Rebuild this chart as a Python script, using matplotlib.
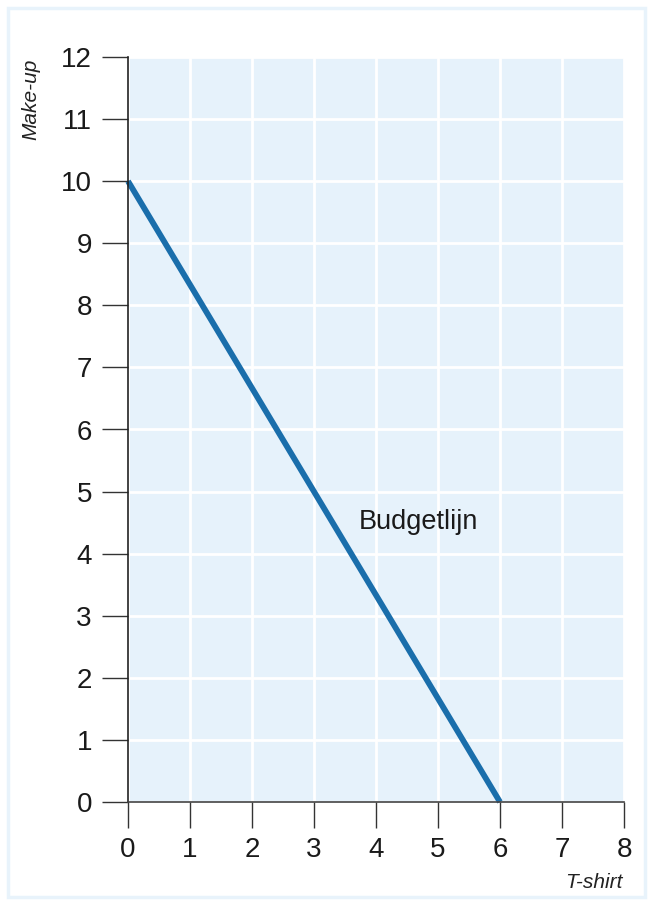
import matplotlib
matplotlib.use("Agg")
import matplotlib.pyplot as plt
from matplotlib.patches import Rectangle

# Data
tshirt = [0, 6]
makeup = [10, 0]
x_ticks = [0, 1, 2, 3, 4, 5, 6, 7, 8]
y_ticks = [0, 1, 2, 3, 4, 5, 6, 7, 8, 9, 10, 11, 12]
line_label = "Budgetlijn"
x_label = "T-shirt"
y_label = "Make-up"

plt.rcParams['font.family'] = ['Liberation Sans', 'DejaVu Sans']

fig = plt.figure(figsize=(6.52, 9.05), dpi=100)
fig.patch.set_facecolor('white')
# outer light border
fig.add_artist(Rectangle((8/652, 8/905), 637/652, 889/905, transform=fig.transFigure,
                         fill=False, edgecolor='#e8f3fb', linewidth=2.5))

ax = fig.add_axes([128/652, 1-802/905, 496/652, 745/905])
ax.set_facecolor('#e6f2fb')
ax.set_xlim(0, 8)
ax.set_ylim(0, 12)
ax.set_xticks(x_ticks)
ax.set_yticks(y_ticks)
ax.grid(True, color='white', linewidth=2.0)
ax.set_axisbelow(True)

for s in ['top', 'right']:
    ax.spines[s].set_visible(False)
ax.spines['left'].set_color('#222222')
ax.spines['bottom'].set_color('#444444')
ax.spines['left'].set_linewidth(1.2)
ax.spines['bottom'].set_linewidth(1.2)

ax.tick_params(axis='both', direction='out', length=19, width=1.0, color='#333333',
               labelsize=20, labelcolor='#1a1a1a')
ax.tick_params(axis='y', pad=7)
ax.tick_params(axis='x', pad=6)

ax.plot(tshirt, makeup, color='#1a6eab', linewidth=4.2, solid_capstyle='butt', clip_on=False)

ax.text(4.69, 4.51, line_label, fontsize=19.5, color='#1a1a1a', ha='center', va='center')

fig.text(594/652, 1-882/905, x_label, fontsize=15, style='italic', color='#222222',
         ha='center', va='center')
fig.text(31/652, 1-99/905, y_label, fontsize=15, style='italic', color='#222222',
         ha='center', va='center', rotation=90)

fig.savefig('out.png', dpi=100)
